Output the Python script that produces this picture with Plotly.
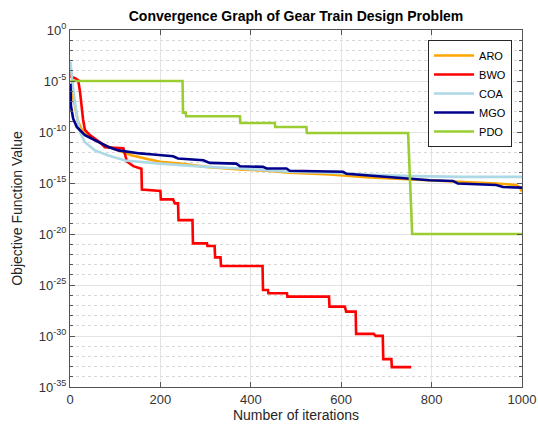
import plotly.graph_objects as go

# ---- data (exponents of 10) ----
aro_iter = [1, 11, 18, 29, 48, 77, 107, 136, 166, 199, 243, 302, 376, 435, 486, 575, 663, 759, 855, 943, 987, 995, 1000]
aro_exp = [-5.3, -7.4, -9.0, -10.0, -10.6, -11.3, -11.8, -12.28, -12.6, -12.93, -13.1, -13.42, -13.68, -13.8,
           -14.0, -14.15, -14.46, -14.66, -14.8, -15.05, -15.2, -15.4, -15.87]

bwo_iter = [1, 3, 10, 18, 22, 25, 29, 33, 44, 66, 77, 118, 122, 126, 140, 158, 159, 200, 201, 228, 232, 239, 240,
            271, 272, 303, 304, 320, 321, 333, 334, 426, 427, 438, 439, 480, 481, 573, 574, 608, 611, 632, 633,
            672, 676, 692, 693, 711, 712, 755]
bwo_exp = [-3.8, -4.6, -4.7, -4.9, -6.0, -7.5, -8.8, -9.8, -10.3, -11.0, -11.5, -11.6, -12.4, -12.9, -13.35, -13.6,
           -15.64, -15.77, -16.61, -16.61, -17.0, -17.0, -18.64, -18.64, -20.92, -20.92, -21.18, -21.18, -22.29,
           -22.29, -23.14, -23.14, -25.49, -25.49, -25.81, -25.81, -26.14, -26.14, -27.12, -27.12, -27.61, -27.61,
           -29.79, -29.79, -29.99, -29.99, -32.27, -32.27, -33.05, -33.05]

coa_iter = [1, 5, 10, 15, 22, 33, 55, 85, 122, 155, 199, 302, 376, 486, 575, 663, 759, 869, 1000]
coa_exp = [-3.1, -5.1, -6.7, -8.4, -10.0, -11.0, -11.8, -12.3, -12.8, -12.95, -13.1, -13.42, -13.58, -13.9,
           -14.0, -14.2, -14.33, -14.4, -14.4]

mgo_iter = [1, 2, 7, 15, 33, 55, 85, 107, 136, 155, 184, 228, 239, 295, 309, 368, 376, 427, 435, 479, 486,
            575, 604, 612, 751, 796, 847, 858, 943, 958, 1000]
mgo_exp = [-5.26, -7.4, -8.7, -9.5, -10.3, -10.8, -11.47, -11.8, -12.0, -12.1, -12.2, -12.38, -12.6, -12.77,
           -13.03, -13.1, -13.36, -13.42, -13.58, -13.58, -13.8, -13.85, -13.9, -14.1, -14.56, -14.73, -14.8,
           -15.05, -15.2, -15.4, -15.45]

pdo_iter = [1, 249, 250, 256, 257, 376, 377, 453, 454, 523, 524, 748, 757, 1000]
pdo_exp = [-5.0, -5.0, -8.1, -8.1, -8.46, -8.46, -9.12, -9.12, -9.51, -9.51, -10.1, -10.1, -20.0, -20.0]

series_names = ["ARO", "BWO", "COA", "MGO", "PDO"]
series_colors = ["#FFA500", "#FF0000", "#ADD8E6", "#00008B", "#9ACD32"]

x_ticks = [0, 200, 400, 600, 800, 1000]
y_tick_exps = [0, -5, -10, -15, -20, -25, -30, -35]
y_tick_labels = ["10<sup>%d</sup>" % e for e in y_tick_exps]

FONT = "Liberation Sans, Arial, Helvetica, sans-serif"

fig = go.Figure()
all_data = [(aro_iter, aro_exp), (bwo_iter, bwo_exp), (coa_iter, coa_exp), (mgo_iter, mgo_exp), (pdo_iter, pdo_exp)]
for (xs, es), name, col in zip(all_data, series_names, series_colors):
    fig.add_trace(go.Scatter(
        x=xs, y=[10.0 ** e for e in es], mode="lines", name=name,
        line=dict(color=col, width=2.6)))

fig.update_layout(
    width=538, height=433,
    margin=dict(l=70, r=16, t=30, b=46),
    paper_bgcolor="white", plot_bgcolor="white",
    font=dict(family=FONT, color="#262626", size=13),
    title=dict(text="<b>Convergence Graph of Gear Train Design Problem</b>",
               x=0.5, xref="paper", xanchor="center", y=0.962, yanchor="middle",
               font=dict(size=14, color="#000000", family=FONT)),
    showlegend=True,
    legend=dict(x=0.978, y=0.972, xanchor="right", yanchor="top",
                bgcolor="white", bordercolor="#262626", borderwidth=1,
                font=dict(size=11, color="#000000", family=FONT),
                tracegroupgap=0, itemwidth=40),
)

fig.update_xaxes(
    automargin=False,
    range=[0, 1000], tickmode="array", tickvals=x_ticks, ticktext=[str(v) for v in x_ticks],
    showgrid=True, gridcolor="#e3e3e3", gridwidth=1,
    showline=True, linecolor="#555555", linewidth=1, mirror="ticks",
    ticks="inside", ticklen=5, tickcolor="#555555", zeroline=False,
    tickfont=dict(size=13, color="#333333"),
    title=dict(text="Number of iterations", font=dict(size=14, color="#262626"), standoff=0),
)
fig.update_yaxes(
    automargin=False,
    type="log", range=[-35, 0], tickmode="array", tickvals=[10.0 ** e for e in y_tick_exps],
    ticktext=y_tick_labels,
    showgrid=True, gridcolor="#e3e3e3", gridwidth=1,
    showline=True, linecolor="#555555", linewidth=1, mirror="ticks",
    ticks="inside", ticklen=5, tickcolor="#555555", zeroline=False,
    tickfont=dict(size=13, color="#333333"),
    minor=dict(tickmode="linear", tick0=0, dtick=1, showgrid=True, gridcolor="#d8d8d8",
               griddash="dot", gridwidth=1, ticks="inside", ticklen=3, tickcolor="#555555"),
    title=dict(text="Objective Function Value", font=dict(size=14, color="#262626"), standoff=12),
)

fig.write_html("out.html",
               config={"displayModeBar": False, "staticPlot": True},
               post_script="document.body.style.margin='0px';document.body.style.overflow='hidden';")
